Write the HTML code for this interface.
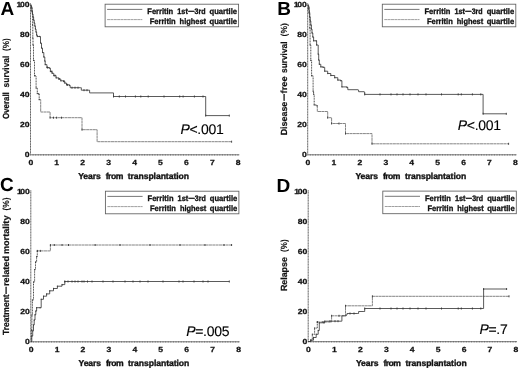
<!DOCTYPE html>
<html><head><meta charset="utf-8"><title>Ferritin quartiles and transplantation outcomes</title>
<style>
html,body{margin:0;padding:0;background:#fff;}
body{width:520px;height:370px;overflow:hidden;}
svg{display:block;font-family:"Liberation Sans",Arial,Helvetica,sans-serif;will-change:transform;filter:grayscale(1);}
text{text-rendering:geometricPrecision;}
.tl{font-size:7.4px;font-weight:bold;fill:#111;stroke:#111;stroke-width:0.25px;}
.al{font-size:8.6px;font-weight:bold;fill:#111;stroke:#111;stroke-width:0.33px;}
.yl{font-size:8.9px;stroke-width:0.2px;}
.yp{stroke-width:0.08px;}
.lg{font-size:8px;font-weight:bold;fill:#111;stroke:#111;stroke-width:0.32px;}
.pl{font-size:19px;font-weight:bold;fill:#000;}
.pv{font-size:14px;fill:#000;stroke:#000;stroke-width:0.12px;letter-spacing:-0.3px;}
.ax{stroke:#777;stroke-width:1;fill:none;}
.ay{stroke:#555;stroke-width:0.9;fill:none;stroke-dasharray:1.3 0.3;}
.mt{stroke:#555;stroke-width:0.75;fill:none;}
.cs{stroke:#3c3c3c;stroke-width:0.85;fill:none;}
.cd{stroke:#666;stroke-width:0.8;fill:none;stroke-dasharray:3 0.35;}
.cdv{stroke:#333;stroke-width:0.9;fill:none;stroke-dasharray:1 0.6;}
.ck{stroke:#333;stroke-width:0.9;fill:none;}
.lb{stroke:#5e5e5e;stroke-width:0.85;fill:#fff;}
</style></head><body>
<svg width="520" height="370" viewBox="0 0 520 370">
<rect width="520" height="370" fill="#fff"/>

<g>
<path class="ay" d="M30.50 3.30 V154.40"/>
<path class="ax" d="M30.50 154.80 H239.34"/>
<path class="mt" d="M30.50 154.30 v1.2 M33.09 154.30 v1.2 M35.69 154.30 v1.2 M38.28 154.30 v1.2 M40.87 154.30 v1.2 M43.47 154.30 v1.2 M46.06 154.30 v1.2 M48.65 154.30 v1.2 M51.24 154.30 v1.2 M53.84 154.30 v1.2 M56.43 154.30 v1.2 M59.02 154.30 v1.2 M61.62 154.30 v1.2 M64.21 154.30 v1.2 M66.80 154.30 v1.2 M69.39 154.30 v1.2 M71.99 154.30 v1.2 M74.58 154.30 v1.2 M77.17 154.30 v1.2 M79.77 154.30 v1.2 M82.36 154.30 v1.2 M84.95 154.30 v1.2 M87.55 154.30 v1.2 M90.14 154.30 v1.2 M92.73 154.30 v1.2 M95.33 154.30 v1.2 M97.92 154.30 v1.2 M100.51 154.30 v1.2 M103.10 154.30 v1.2 M105.70 154.30 v1.2 M108.29 154.30 v1.2 M110.88 154.30 v1.2 M113.48 154.30 v1.2 M116.07 154.30 v1.2 M118.66 154.30 v1.2 M121.25 154.30 v1.2 M123.85 154.30 v1.2 M126.44 154.30 v1.2 M129.03 154.30 v1.2 M131.63 154.30 v1.2 M134.22 154.30 v1.2 M136.81 154.30 v1.2 M139.41 154.30 v1.2 M142.00 154.30 v1.2 M144.59 154.30 v1.2 M147.19 154.30 v1.2 M149.78 154.30 v1.2 M152.37 154.30 v1.2 M154.96 154.30 v1.2 M157.56 154.30 v1.2 M160.15 154.30 v1.2 M162.74 154.30 v1.2 M165.34 154.30 v1.2 M167.93 154.30 v1.2 M170.52 154.30 v1.2 M173.12 154.30 v1.2 M175.71 154.30 v1.2 M178.30 154.30 v1.2 M180.89 154.30 v1.2 M183.49 154.30 v1.2 M186.08 154.30 v1.2 M188.67 154.30 v1.2 M191.27 154.30 v1.2 M193.86 154.30 v1.2 M196.45 154.30 v1.2 M199.05 154.30 v1.2 M201.64 154.30 v1.2 M204.23 154.30 v1.2 M206.82 154.30 v1.2 M209.42 154.30 v1.2 M212.01 154.30 v1.2 M214.60 154.30 v1.2 M217.20 154.30 v1.2 M219.79 154.30 v1.2 M222.38 154.30 v1.2 M224.97 154.30 v1.2 M227.57 154.30 v1.2 M230.16 154.30 v1.2 M232.75 154.30 v1.2 M235.35 154.30 v1.2 M237.94 154.30 v1.2 "/>
<text class="tl" transform="translate(30.80 165.35) scale(1.16 1)" text-anchor="middle">0</text>
<text class="tl" transform="translate(56.73 165.35) scale(1.16 1)" text-anchor="middle">1</text>
<text class="tl" transform="translate(82.66 165.35) scale(1.16 1)" text-anchor="middle">2</text>
<text class="tl" transform="translate(108.59 165.35) scale(1.16 1)" text-anchor="middle">3</text>
<text class="tl" transform="translate(134.52 165.35) scale(1.16 1)" text-anchor="middle">4</text>
<text class="tl" transform="translate(160.45 165.35) scale(1.16 1)" text-anchor="middle">5</text>
<text class="tl" transform="translate(186.38 165.35) scale(1.16 1)" text-anchor="middle">6</text>
<text class="tl" transform="translate(212.31 165.35) scale(1.16 1)" text-anchor="middle">7</text>
<text class="tl" transform="translate(238.24 165.35) scale(1.16 1)" text-anchor="middle">8</text>
<text class="tl" transform="translate(29.60 157.00) scale(1.16 1)" text-anchor="end">0</text>
<text class="tl" transform="translate(29.60 127.10) scale(1.16 1)" text-anchor="end">20</text>
<text class="tl" transform="translate(29.60 97.20) scale(1.16 1)" text-anchor="end">40</text>
<text class="tl" transform="translate(29.60 67.30) scale(1.16 1)" text-anchor="end">60</text>
<text class="tl" transform="translate(29.60 37.40) scale(1.16 1)" text-anchor="end">80</text>
<text class="tl" transform="translate(29.60 7.10) scale(1.16 1)" text-anchor="end">1<tspan dx="-1.15">00</tspan></text>
<text class="al" x="78.20" y="178.80" textLength="22.60" lengthAdjust="spacing">Years</text>
<text class="al" x="105.70" y="178.80" textLength="17.60" lengthAdjust="spacing">from</text>
<text class="al" x="127.70" y="178.80" textLength="61.25" lengthAdjust="spacing">transplantation</text>
<text class="al yl" transform="translate(9.10 119.05) rotate(-90)" textLength="26.85" lengthAdjust="spacingAndGlyphs">Overall</text>
<text class="al yl" transform="translate(9.10 87.40) rotate(-90)" textLength="31.70" lengthAdjust="spacingAndGlyphs">survival</text>
<text class="al yl yp" transform="translate(9.10 50.90) rotate(-90)" textLength="12.70" lengthAdjust="spacingAndGlyphs">(%)</text>
<text class="pl" x="0.60" y="14.80">A</text>
<rect class="lb" x="105.10" y="4.20" width="133.5" height="22.6"/>
<path class="cs" style="stroke-width:0.7" d="M107.10 9.40 h35.2"/>
<path class="cd" style="stroke:#777;stroke-width:0.7" d="M107.10 19.60 h35.2"/>
<text class="lg" x="147.30" y="13.75" textLength="25.90" lengthAdjust="spacingAndGlyphs">Ferritin</text>
<text class="lg" x="177.30" y="13.75" textLength="10.50" lengthAdjust="spacingAndGlyphs">1st</text>
<text class="lg" x="187.90" y="13.75" textLength="6.70" lengthAdjust="spacingAndGlyphs">−</text>
<text class="lg" x="194.50" y="13.75" textLength="11.00" lengthAdjust="spacingAndGlyphs">3rd</text>
<text class="lg" x="209.50" y="13.75" textLength="27.50" lengthAdjust="spacingAndGlyphs">quartile</text>
<text class="lg" x="149.70" y="23.75" textLength="25.90" lengthAdjust="spacingAndGlyphs">Ferritin</text>
<text class="lg" x="179.60" y="23.75" textLength="26.40" lengthAdjust="spacingAndGlyphs">highest</text>
<text class="lg" x="209.50" y="23.75" textLength="27.50" lengthAdjust="spacingAndGlyphs">quartile</text>
<path class="cdv" d="M30.60 5.00 H31.40 V7.00 H32.20 V12.00 H32.60 V25.00 H32.80 V38.00 H33.00 V45.00 H33.50 V60.40 H34.50 V75.80 H36.10 V88.10 H37.30 V93.50 H38.90 V94.30 H39.20 V99.60"/>
<path class="cd" d="M39.20 99.60 H40.70 V100.40 V112.00 H50.10 V117.70 H82.00 V129.70 H97.10 V141.70 H231.60"/>
<path class="ck" d="M50.10 116.70 v2.0 M53.50 116.70 v2.0 M56.60 116.70 v2.0 M61.50 116.70 v2.0 M82.00 128.70 v2.0 M231.60 140.70 v2.0 M31.40 6.35 v1.3 M32.20 11.35 v1.3 M32.60 24.35 v1.3 M32.80 37.35 v1.3 M33.00 44.35 v1.3 M33.50 59.75 v1.3 M34.50 75.15 v1.3 M36.10 87.45 v1.3 M37.30 92.85 v1.3 M38.90 93.65 v1.3 M39.20 98.95 v1.3 "/>
<path class="cs" d="M30.60 5.00 H31.20 V8.00 H31.80 V11.00 H32.40 V14.00 H33.00 V17.00 H33.60 V20.00 H34.20 V23.00 H34.80 V26.00 H35.40 V29.00 H36.00 V32.00 H36.60 V35.00 H37.30 V36.50 H39.60 H40.50 V43.00 H41.50 V48.00 H42.50 V52.50 H43.80 V57.00 H44.80 V61.00 H45.20 V64.60 H46.90 V67.50 H49.20 V68.10 H50.40 V71.50 H52.10 V73.30 H53.80 V75.60 H56.10 V77.90 H59.00 V79.00 H60.80 V80.80 H63.60 V81.30 H64.80 V83.10 H66.50 V84.80 H69.40 V85.40 H70.20 V87.70 H80.40 H81.30 V90.20 H89.00 H89.60 V92.90 H113.50 V96.50 H205.70 V115.60 H229.30"/>
<path class="ck" d="M47.50 66.50 v2.0 M51.80 70.50 v2.0 M55.00 74.60 v2.0 M59.00 78.00 v2.0 M64.00 80.30 v2.0 M67.50 83.80 v2.0 M72.00 86.70 v2.0 M75.00 86.70 v2.0 M78.00 86.70 v2.0 M84.00 89.20 v2.0 M87.00 89.20 v2.0 M113.50 95.50 v2.0 M119.30 95.50 v2.0 M125.50 95.50 v2.0 M135.40 95.50 v2.0 M140.80 95.50 v2.0 M148.20 95.50 v2.0 M164.00 95.50 v2.0 M179.70 95.50 v2.0 M183.10 95.50 v2.0 M194.40 95.50 v2.0 M203.00 95.50 v2.0 M205.70 114.60 v2.0 M229.30 114.60 v2.0 M31.20 7.35 v1.3 M31.80 10.35 v1.3 M32.40 13.35 v1.3 M33.00 16.35 v1.3 M33.60 19.35 v1.3 M34.20 22.35 v1.3 M34.80 25.35 v1.3 M35.40 28.35 v1.3 M36.00 31.35 v1.3 M36.60 34.35 v1.3 M37.30 35.85 v1.3 M39.60 35.85 v1.3 M40.50 42.35 v1.3 M41.50 47.35 v1.3 M42.50 51.85 v1.3 M43.80 56.35 v1.3 M44.80 60.35 v1.3 M45.20 63.95 v1.3 M46.90 66.85 v1.3 M49.20 67.45 v1.3 M50.40 70.85 v1.3 M52.10 72.65 v1.3 M53.80 74.95 v1.3 M56.10 77.25 v1.3 M59.00 78.35 v1.3 M60.80 80.15 v1.3 M63.60 80.65 v1.3 M64.80 82.45 v1.3 M66.50 84.15 v1.3 M69.40 84.75 v1.3 "/>
<text class="pv" x="180.40" y="133.60"><tspan font-style="italic">P</tspan>&lt;.001</text>
</g>
<g>
<path class="ay" d="M307.70 3.30 V154.40"/>
<path class="ax" d="M307.70 154.80 H516.54"/>
<path class="mt" d="M307.70 154.30 v1.2 M310.29 154.30 v1.2 M312.89 154.30 v1.2 M315.48 154.30 v1.2 M318.07 154.30 v1.2 M320.66 154.30 v1.2 M323.26 154.30 v1.2 M325.85 154.30 v1.2 M328.44 154.30 v1.2 M331.04 154.30 v1.2 M333.63 154.30 v1.2 M336.22 154.30 v1.2 M338.82 154.30 v1.2 M341.41 154.30 v1.2 M344.00 154.30 v1.2 M346.59 154.30 v1.2 M349.19 154.30 v1.2 M351.78 154.30 v1.2 M354.37 154.30 v1.2 M356.97 154.30 v1.2 M359.56 154.30 v1.2 M362.15 154.30 v1.2 M364.75 154.30 v1.2 M367.34 154.30 v1.2 M369.93 154.30 v1.2 M372.52 154.30 v1.2 M375.12 154.30 v1.2 M377.71 154.30 v1.2 M380.30 154.30 v1.2 M382.90 154.30 v1.2 M385.49 154.30 v1.2 M388.08 154.30 v1.2 M390.68 154.30 v1.2 M393.27 154.30 v1.2 M395.86 154.30 v1.2 M398.45 154.30 v1.2 M401.05 154.30 v1.2 M403.64 154.30 v1.2 M406.23 154.30 v1.2 M408.83 154.30 v1.2 M411.42 154.30 v1.2 M414.01 154.30 v1.2 M416.61 154.30 v1.2 M419.20 154.30 v1.2 M421.79 154.30 v1.2 M424.38 154.30 v1.2 M426.98 154.30 v1.2 M429.57 154.30 v1.2 M432.16 154.30 v1.2 M434.76 154.30 v1.2 M437.35 154.30 v1.2 M439.94 154.30 v1.2 M442.54 154.30 v1.2 M445.13 154.30 v1.2 M447.72 154.30 v1.2 M450.31 154.30 v1.2 M452.91 154.30 v1.2 M455.50 154.30 v1.2 M458.09 154.30 v1.2 M460.69 154.30 v1.2 M463.28 154.30 v1.2 M465.87 154.30 v1.2 M468.47 154.30 v1.2 M471.06 154.30 v1.2 M473.65 154.30 v1.2 M476.25 154.30 v1.2 M478.84 154.30 v1.2 M481.43 154.30 v1.2 M484.02 154.30 v1.2 M486.62 154.30 v1.2 M489.21 154.30 v1.2 M491.80 154.30 v1.2 M494.40 154.30 v1.2 M496.99 154.30 v1.2 M499.58 154.30 v1.2 M502.17 154.30 v1.2 M504.77 154.30 v1.2 M507.36 154.30 v1.2 M509.95 154.30 v1.2 M512.55 154.30 v1.2 M515.14 154.30 v1.2 "/>
<text class="tl" transform="translate(308.00 165.35) scale(1.16 1)" text-anchor="middle">0</text>
<text class="tl" transform="translate(333.93 165.35) scale(1.16 1)" text-anchor="middle">1</text>
<text class="tl" transform="translate(359.86 165.35) scale(1.16 1)" text-anchor="middle">2</text>
<text class="tl" transform="translate(385.79 165.35) scale(1.16 1)" text-anchor="middle">3</text>
<text class="tl" transform="translate(411.72 165.35) scale(1.16 1)" text-anchor="middle">4</text>
<text class="tl" transform="translate(437.65 165.35) scale(1.16 1)" text-anchor="middle">5</text>
<text class="tl" transform="translate(463.58 165.35) scale(1.16 1)" text-anchor="middle">6</text>
<text class="tl" transform="translate(489.51 165.35) scale(1.16 1)" text-anchor="middle">7</text>
<text class="tl" transform="translate(515.44 165.35) scale(1.16 1)" text-anchor="middle">8</text>
<text class="tl" transform="translate(306.80 157.00) scale(1.16 1)" text-anchor="end">0</text>
<text class="tl" transform="translate(306.80 127.10) scale(1.16 1)" text-anchor="end">20</text>
<text class="tl" transform="translate(306.80 97.20) scale(1.16 1)" text-anchor="end">40</text>
<text class="tl" transform="translate(306.80 67.30) scale(1.16 1)" text-anchor="end">60</text>
<text class="tl" transform="translate(306.80 37.40) scale(1.16 1)" text-anchor="end">80</text>
<text class="tl" transform="translate(306.80 7.10) scale(1.16 1)" text-anchor="end">1<tspan dx="-1.15">00</tspan></text>
<text class="al" x="355.40" y="178.80" textLength="22.60" lengthAdjust="spacing">Years</text>
<text class="al" x="382.90" y="178.80" textLength="17.60" lengthAdjust="spacing">from</text>
<text class="al" x="404.90" y="178.80" textLength="61.25" lengthAdjust="spacing">transplantation</text>
<text class="al yl" transform="translate(286.50 135.30) rotate(-90)" textLength="33.60" lengthAdjust="spacingAndGlyphs">Disease</text>
<text class="al" transform="translate(286.50 100.90) rotate(-90)" textLength="7.30" lengthAdjust="spacingAndGlyphs">−</text>
<text class="al yl" transform="translate(286.50 93.40) rotate(-90)" textLength="16.90" lengthAdjust="spacingAndGlyphs">free</text>
<text class="al yl" transform="translate(286.50 73.00) rotate(-90)" textLength="31.50" lengthAdjust="spacingAndGlyphs">survival</text>
<text class="al yl yp" transform="translate(286.50 36.40) rotate(-90)" textLength="13.20" lengthAdjust="spacingAndGlyphs">(%)</text>
<text class="pl" x="277.20" y="14.60">B</text>
<rect class="lb" x="382.30" y="4.20" width="133.5" height="22.6"/>
<path class="cs" style="stroke-width:0.7" d="M384.30 9.40 h35.2"/>
<path class="cd" style="stroke:#777;stroke-width:0.7" d="M384.30 19.60 h35.2"/>
<text class="lg" x="424.50" y="13.75" textLength="25.90" lengthAdjust="spacingAndGlyphs">Ferritin</text>
<text class="lg" x="454.50" y="13.75" textLength="10.50" lengthAdjust="spacingAndGlyphs">1st</text>
<text class="lg" x="465.10" y="13.75" textLength="6.70" lengthAdjust="spacingAndGlyphs">−</text>
<text class="lg" x="471.70" y="13.75" textLength="11.00" lengthAdjust="spacingAndGlyphs">3rd</text>
<text class="lg" x="486.70" y="13.75" textLength="27.50" lengthAdjust="spacingAndGlyphs">quartile</text>
<text class="lg" x="426.90" y="23.75" textLength="25.90" lengthAdjust="spacingAndGlyphs">Ferritin</text>
<text class="lg" x="456.80" y="23.75" textLength="26.40" lengthAdjust="spacingAndGlyphs">highest</text>
<text class="lg" x="486.70" y="23.75" textLength="27.50" lengthAdjust="spacingAndGlyphs">quartile</text>
<path class="cdv" d="M307.80 5.00 H308.60 V7.00 H309.40 V12.00 H309.80 V28.00 H310.10 V45.00 H310.80 V60.40 H311.60 V75.80 H313.10 V91.20 H313.60 V94.20 H314.20 V105.00 H317.00 V105.80"/>
<path class="cd" d="M317.00 105.80 H317.30 V111.50 H327.70 V117.70 H331.60 V123.50 H345.50 V133.60 H372.00 V143.80 H508.60"/>
<path class="ck" d="M327.70 116.70 v2.0 M331.60 122.50 v2.0 M339.00 122.50 v2.0 M345.50 132.60 v2.0 M372.00 142.80 v2.0 M508.60 142.80 v2.0 M308.60 6.35 v1.3 M309.40 11.35 v1.3 M309.80 27.35 v1.3 M310.10 44.35 v1.3 M310.80 59.75 v1.3 M311.60 75.15 v1.3 M313.10 90.55 v1.3 M313.60 93.55 v1.3 M314.20 104.35 v1.3 M317.00 105.15 v1.3 "/>
<path class="cs" d="M307.80 5.00 H308.40 V9.00 H309.00 V13.00 H309.60 V17.00 H310.20 V21.00 H310.80 V25.00 H311.40 V29.00 H312.00 V33.00 H312.80 V37.00 H313.60 V40.80 H316.20 H316.60 V45.00 H318.20 V54.20 H318.70 V60.00 H319.30 V64.30 H320.80 V66.90 H323.10 V67.30 H324.70 V71.20 H327.70 V73.50 H330.80 V75.50 H334.70 V77.70 H337.80 V80.10 H340.80 V80.70 H341.90 V86.90 H347.00 V87.40 H347.80 V89.70 H357.80 V90.00 H358.60 V91.70 H363.90 V92.00 H364.70 V94.40 H483.10 V113.80 H506.30"/>
<path class="ck" d="M364.70 93.40 v2.0 M380.00 93.40 v2.0 M391.00 93.40 v2.0 M397.00 93.40 v2.0 M403.00 93.40 v2.0 M410.00 93.40 v2.0 M418.00 93.40 v2.0 M426.00 93.40 v2.0 M441.50 93.40 v2.0 M458.20 93.40 v2.0 M461.30 93.40 v2.0 M472.40 93.40 v2.0 M480.80 93.40 v2.0 M483.10 112.80 v2.0 M506.30 112.80 v2.0 M308.40 8.35 v1.3 M309.00 12.35 v1.3 M309.60 16.35 v1.3 M310.20 20.35 v1.3 M310.80 24.35 v1.3 M311.40 28.35 v1.3 M312.00 32.35 v1.3 M312.80 36.35 v1.3 M313.60 40.15 v1.3 M316.20 40.15 v1.3 M316.60 44.35 v1.3 M318.20 53.55 v1.3 M318.70 59.35 v1.3 M319.30 63.65 v1.3 M320.80 66.25 v1.3 M323.10 66.65 v1.3 M324.70 70.55 v1.3 M327.70 72.85 v1.3 M330.80 74.85 v1.3 M334.70 77.05 v1.3 M337.80 79.45 v1.3 M340.80 80.05 v1.3 M341.90 86.25 v1.3 M347.00 86.75 v1.3 "/>
<text class="pv" x="457.80" y="129.80"><tspan font-style="italic">P</tspan>&lt;.001</text>
</g>
<g>
<path class="ay" d="M30.80 190.30 V341.40"/>
<path class="ax" d="M30.80 341.80 H239.64"/>
<path class="mt" d="M30.80 341.30 v1.2 M33.39 341.30 v1.2 M35.99 341.30 v1.2 M38.58 341.30 v1.2 M41.17 341.30 v1.2 M43.77 341.30 v1.2 M46.36 341.30 v1.2 M48.95 341.30 v1.2 M51.54 341.30 v1.2 M54.14 341.30 v1.2 M56.73 341.30 v1.2 M59.32 341.30 v1.2 M61.92 341.30 v1.2 M64.51 341.30 v1.2 M67.10 341.30 v1.2 M69.69 341.30 v1.2 M72.29 341.30 v1.2 M74.88 341.30 v1.2 M77.47 341.30 v1.2 M80.07 341.30 v1.2 M82.66 341.30 v1.2 M85.25 341.30 v1.2 M87.85 341.30 v1.2 M90.44 341.30 v1.2 M93.03 341.30 v1.2 M95.62 341.30 v1.2 M98.22 341.30 v1.2 M100.81 341.30 v1.2 M103.40 341.30 v1.2 M106.00 341.30 v1.2 M108.59 341.30 v1.2 M111.18 341.30 v1.2 M113.78 341.30 v1.2 M116.37 341.30 v1.2 M118.96 341.30 v1.2 M121.55 341.30 v1.2 M124.15 341.30 v1.2 M126.74 341.30 v1.2 M129.33 341.30 v1.2 M131.93 341.30 v1.2 M134.52 341.30 v1.2 M137.11 341.30 v1.2 M139.71 341.30 v1.2 M142.30 341.30 v1.2 M144.89 341.30 v1.2 M147.48 341.30 v1.2 M150.08 341.30 v1.2 M152.67 341.30 v1.2 M155.26 341.30 v1.2 M157.86 341.30 v1.2 M160.45 341.30 v1.2 M163.04 341.30 v1.2 M165.64 341.30 v1.2 M168.23 341.30 v1.2 M170.82 341.30 v1.2 M173.42 341.30 v1.2 M176.01 341.30 v1.2 M178.60 341.30 v1.2 M181.19 341.30 v1.2 M183.79 341.30 v1.2 M186.38 341.30 v1.2 M188.97 341.30 v1.2 M191.57 341.30 v1.2 M194.16 341.30 v1.2 M196.75 341.30 v1.2 M199.35 341.30 v1.2 M201.94 341.30 v1.2 M204.53 341.30 v1.2 M207.12 341.30 v1.2 M209.72 341.30 v1.2 M212.31 341.30 v1.2 M214.90 341.30 v1.2 M217.50 341.30 v1.2 M220.09 341.30 v1.2 M222.68 341.30 v1.2 M225.28 341.30 v1.2 M227.87 341.30 v1.2 M230.46 341.30 v1.2 M233.05 341.30 v1.2 M235.65 341.30 v1.2 M238.24 341.30 v1.2 "/>
<text class="tl" transform="translate(31.10 352.35) scale(1.16 1)" text-anchor="middle">0</text>
<text class="tl" transform="translate(57.03 352.35) scale(1.16 1)" text-anchor="middle">1</text>
<text class="tl" transform="translate(82.96 352.35) scale(1.16 1)" text-anchor="middle">2</text>
<text class="tl" transform="translate(108.89 352.35) scale(1.16 1)" text-anchor="middle">3</text>
<text class="tl" transform="translate(134.82 352.35) scale(1.16 1)" text-anchor="middle">4</text>
<text class="tl" transform="translate(160.75 352.35) scale(1.16 1)" text-anchor="middle">5</text>
<text class="tl" transform="translate(186.68 352.35) scale(1.16 1)" text-anchor="middle">6</text>
<text class="tl" transform="translate(212.61 352.35) scale(1.16 1)" text-anchor="middle">7</text>
<text class="tl" transform="translate(238.54 352.35) scale(1.16 1)" text-anchor="middle">8</text>
<text class="tl" transform="translate(29.90 344.00) scale(1.16 1)" text-anchor="end">0</text>
<text class="tl" transform="translate(29.90 314.10) scale(1.16 1)" text-anchor="end">20</text>
<text class="tl" transform="translate(29.90 284.20) scale(1.16 1)" text-anchor="end">40</text>
<text class="tl" transform="translate(29.90 254.30) scale(1.16 1)" text-anchor="end">60</text>
<text class="tl" transform="translate(29.90 224.40) scale(1.16 1)" text-anchor="end">80</text>
<text class="tl" transform="translate(29.90 194.10) scale(1.16 1)" text-anchor="end">1<tspan dx="-1.15">00</tspan></text>
<text class="al" x="78.50" y="365.80" textLength="22.60" lengthAdjust="spacing">Years</text>
<text class="al" x="106.00" y="365.80" textLength="17.60" lengthAdjust="spacing">from</text>
<text class="al" x="128.00" y="365.80" textLength="61.25" lengthAdjust="spacing">transplantation</text>
<text class="al yl" transform="translate(9.40 335.00) rotate(-90)" textLength="40.70" lengthAdjust="spacingAndGlyphs">Treatment</text>
<text class="al" transform="translate(9.40 294.20) rotate(-90)" textLength="7.80" lengthAdjust="spacingAndGlyphs">−</text>
<text class="al yl" transform="translate(9.40 286.00) rotate(-90)" textLength="30.00" lengthAdjust="spacingAndGlyphs">related</text>
<text class="al yl" transform="translate(9.40 254.10) rotate(-90)" textLength="38.60" lengthAdjust="spacingAndGlyphs">mortality</text>
<text class="al yl yp" transform="translate(9.40 210.50) rotate(-90)" textLength="12.90" lengthAdjust="spacingAndGlyphs">(%)</text>
<text class="pl" x="0.10" y="190.90">C</text>
<rect class="lb" x="105.40" y="191.20" width="133.5" height="22.6"/>
<path class="cs" style="stroke-width:0.7" d="M107.40 196.40 h35.2"/>
<path class="cd" style="stroke:#777;stroke-width:0.7" d="M107.40 206.60 h35.2"/>
<text class="lg" x="147.60" y="200.75" textLength="25.90" lengthAdjust="spacingAndGlyphs">Ferritin</text>
<text class="lg" x="177.60" y="200.75" textLength="10.50" lengthAdjust="spacingAndGlyphs">1st</text>
<text class="lg" x="188.20" y="200.75" textLength="6.70" lengthAdjust="spacingAndGlyphs">−</text>
<text class="lg" x="194.80" y="200.75" textLength="11.00" lengthAdjust="spacingAndGlyphs">3rd</text>
<text class="lg" x="209.80" y="200.75" textLength="27.50" lengthAdjust="spacingAndGlyphs">quartile</text>
<text class="lg" x="150.00" y="210.75" textLength="25.90" lengthAdjust="spacingAndGlyphs">Ferritin</text>
<text class="lg" x="179.90" y="210.75" textLength="26.40" lengthAdjust="spacingAndGlyphs">highest</text>
<text class="lg" x="209.80" y="210.75" textLength="27.50" lengthAdjust="spacingAndGlyphs">quartile</text>
<path class="cdv" d="M30.90 341.60 H31.40 V330.00 H31.90 V315.00 H32.40 V300.00 H33.50 V282.00 H34.60 V269.70 H35.50 V262.00 H36.60 V256.60 H37.30 V250.90"/>
<path class="cd" d="M37.30 250.90 H50.40 V245.00 H231.60"/>
<path class="ck" d="M37.30 249.90 v2.0 M40.40 249.90 v2.0 M50.40 244.00 v2.0 M54.30 244.00 v2.0 M62.00 244.00 v2.0 M68.50 244.00 v2.0 M95.10 244.00 v2.0 M120.00 244.00 v2.0 M150.00 244.00 v2.0 M180.00 244.00 v2.0 M205.00 244.00 v2.0 M224.00 244.00 v2.0 M231.60 244.00 v2.0 M31.40 329.35 v1.3 M31.90 314.35 v1.3 M32.40 299.35 v1.3 M33.50 281.35 v1.3 M34.60 269.05 v1.3 M35.50 261.35 v1.3 M36.60 255.95 v1.3 M37.30 250.25 v1.3 "/>
<path class="cs" d="M30.90 341.60 H31.80 V336.00 H32.70 V330.80 H33.50 V325.00 H34.20 V320.00 H35.00 V314.70 H35.80 V311.00 H36.60 V307.70 H40.10 H41.20 V299.30 H43.50 V296.20 H46.60 V293.90 H49.70 V290.80 H53.50 V288.50 H57.40 V286.20 H62.00 V284.60 H64.80 V281.50 H229.30"/>
<path class="ck" d="M64.80 280.50 v2.0 M68.00 280.50 v2.0 M72.00 280.50 v2.0 M75.00 280.50 v2.0 M78.00 280.50 v2.0 M82.00 280.50 v2.0 M84.00 280.50 v2.0 M87.50 280.50 v2.0 M92.00 280.50 v2.0 M103.00 280.50 v2.0 M113.00 280.50 v2.0 M125.00 280.50 v2.0 M133.00 280.50 v2.0 M140.00 280.50 v2.0 M148.00 280.50 v2.0 M163.00 280.50 v2.0 M179.00 280.50 v2.0 M183.00 280.50 v2.0 M194.00 280.50 v2.0 M203.00 280.50 v2.0 M208.00 280.50 v2.0 M229.30 280.50 v2.0 M31.80 335.35 v1.3 M32.70 330.15 v1.3 M33.50 324.35 v1.3 M34.20 319.35 v1.3 M35.00 314.05 v1.3 M35.80 310.35 v1.3 M36.60 307.05 v1.3 M40.10 307.05 v1.3 M41.20 298.65 v1.3 M43.50 295.55 v1.3 M46.60 293.25 v1.3 M49.70 290.15 v1.3 M53.50 287.85 v1.3 M57.40 285.55 v1.3 M62.00 283.95 v1.3 M64.80 280.85 v1.3 "/>
<text class="pv" x="186.20" y="335.70"><tspan font-style="italic">P</tspan>=.005</text>
</g>
<g>
<path class="ay" d="M308.20 190.20 V341.30"/>
<path class="ax" d="M308.20 341.70 H517.04"/>
<path class="mt" d="M308.20 341.20 v1.2 M310.79 341.20 v1.2 M313.39 341.20 v1.2 M315.98 341.20 v1.2 M318.57 341.20 v1.2 M321.16 341.20 v1.2 M323.76 341.20 v1.2 M326.35 341.20 v1.2 M328.94 341.20 v1.2 M331.54 341.20 v1.2 M334.13 341.20 v1.2 M336.72 341.20 v1.2 M339.32 341.20 v1.2 M341.91 341.20 v1.2 M344.50 341.20 v1.2 M347.09 341.20 v1.2 M349.69 341.20 v1.2 M352.28 341.20 v1.2 M354.87 341.20 v1.2 M357.47 341.20 v1.2 M360.06 341.20 v1.2 M362.65 341.20 v1.2 M365.25 341.20 v1.2 M367.84 341.20 v1.2 M370.43 341.20 v1.2 M373.02 341.20 v1.2 M375.62 341.20 v1.2 M378.21 341.20 v1.2 M380.80 341.20 v1.2 M383.40 341.20 v1.2 M385.99 341.20 v1.2 M388.58 341.20 v1.2 M391.18 341.20 v1.2 M393.77 341.20 v1.2 M396.36 341.20 v1.2 M398.95 341.20 v1.2 M401.55 341.20 v1.2 M404.14 341.20 v1.2 M406.73 341.20 v1.2 M409.33 341.20 v1.2 M411.92 341.20 v1.2 M414.51 341.20 v1.2 M417.11 341.20 v1.2 M419.70 341.20 v1.2 M422.29 341.20 v1.2 M424.88 341.20 v1.2 M427.48 341.20 v1.2 M430.07 341.20 v1.2 M432.66 341.20 v1.2 M435.26 341.20 v1.2 M437.85 341.20 v1.2 M440.44 341.20 v1.2 M443.04 341.20 v1.2 M445.63 341.20 v1.2 M448.22 341.20 v1.2 M450.81 341.20 v1.2 M453.41 341.20 v1.2 M456.00 341.20 v1.2 M458.59 341.20 v1.2 M461.19 341.20 v1.2 M463.78 341.20 v1.2 M466.37 341.20 v1.2 M468.97 341.20 v1.2 M471.56 341.20 v1.2 M474.15 341.20 v1.2 M476.75 341.20 v1.2 M479.34 341.20 v1.2 M481.93 341.20 v1.2 M484.52 341.20 v1.2 M487.12 341.20 v1.2 M489.71 341.20 v1.2 M492.30 341.20 v1.2 M494.90 341.20 v1.2 M497.49 341.20 v1.2 M500.08 341.20 v1.2 M502.67 341.20 v1.2 M505.27 341.20 v1.2 M507.86 341.20 v1.2 M510.45 341.20 v1.2 M513.05 341.20 v1.2 M515.64 341.20 v1.2 "/>
<text class="tl" transform="translate(308.50 352.25) scale(1.16 1)" text-anchor="middle">0</text>
<text class="tl" transform="translate(334.43 352.25) scale(1.16 1)" text-anchor="middle">1</text>
<text class="tl" transform="translate(360.36 352.25) scale(1.16 1)" text-anchor="middle">2</text>
<text class="tl" transform="translate(386.29 352.25) scale(1.16 1)" text-anchor="middle">3</text>
<text class="tl" transform="translate(412.22 352.25) scale(1.16 1)" text-anchor="middle">4</text>
<text class="tl" transform="translate(438.15 352.25) scale(1.16 1)" text-anchor="middle">5</text>
<text class="tl" transform="translate(464.08 352.25) scale(1.16 1)" text-anchor="middle">6</text>
<text class="tl" transform="translate(490.01 352.25) scale(1.16 1)" text-anchor="middle">7</text>
<text class="tl" transform="translate(515.94 352.25) scale(1.16 1)" text-anchor="middle">8</text>
<text class="tl" transform="translate(307.30 343.90) scale(1.16 1)" text-anchor="end">0</text>
<text class="tl" transform="translate(307.30 314.00) scale(1.16 1)" text-anchor="end">20</text>
<text class="tl" transform="translate(307.30 284.10) scale(1.16 1)" text-anchor="end">40</text>
<text class="tl" transform="translate(307.30 254.20) scale(1.16 1)" text-anchor="end">60</text>
<text class="tl" transform="translate(307.30 224.30) scale(1.16 1)" text-anchor="end">80</text>
<text class="tl" transform="translate(307.30 194.00) scale(1.16 1)" text-anchor="end">1<tspan dx="-1.15">00</tspan></text>
<text class="al" x="355.90" y="365.70" textLength="22.60" lengthAdjust="spacing">Years</text>
<text class="al" x="383.40" y="365.70" textLength="17.60" lengthAdjust="spacing">from</text>
<text class="al" x="405.40" y="365.70" textLength="61.25" lengthAdjust="spacing">transplantation</text>
<text class="al yl" transform="translate(286.60 291.10) rotate(-90)" textLength="34.00" lengthAdjust="spacingAndGlyphs">Relapse</text>
<text class="al yl yp" transform="translate(286.60 251.90) rotate(-90)" textLength="12.50" lengthAdjust="spacingAndGlyphs">(%)</text>
<text class="pl" x="276.40" y="192.00">D</text>
<rect class="lb" x="382.80" y="191.10" width="133.5" height="22.6"/>
<path class="cs" style="stroke-width:0.7" d="M384.80 196.30 h35.2"/>
<path class="cd" style="stroke:#777;stroke-width:0.7" d="M384.80 206.50 h35.2"/>
<text class="lg" x="425.00" y="200.65" textLength="25.90" lengthAdjust="spacingAndGlyphs">Ferritin</text>
<text class="lg" x="455.00" y="200.65" textLength="10.50" lengthAdjust="spacingAndGlyphs">1st</text>
<text class="lg" x="465.60" y="200.65" textLength="6.70" lengthAdjust="spacingAndGlyphs">−</text>
<text class="lg" x="472.20" y="200.65" textLength="11.00" lengthAdjust="spacingAndGlyphs">3rd</text>
<text class="lg" x="487.20" y="200.65" textLength="27.50" lengthAdjust="spacingAndGlyphs">quartile</text>
<text class="lg" x="427.40" y="210.65" textLength="25.90" lengthAdjust="spacingAndGlyphs">Ferritin</text>
<text class="lg" x="457.30" y="210.65" textLength="26.40" lengthAdjust="spacingAndGlyphs">highest</text>
<text class="lg" x="487.20" y="210.65" textLength="27.50" lengthAdjust="spacingAndGlyphs">quartile</text>
<path class="cdv" d="M308.30 341.50 H310.80 V340.00 H312.30 V334.30 H314.60 V328.10 H317.30 V322.00"/>
<path class="cd" d="M317.30 322.00 H331.60 V315.80 H345.50 V305.80 H372.40 V296.30 H509.00"/>
<path class="ck" d="M317.30 321.00 v2.0 M323.00 321.00 v2.0 M331.60 314.80 v2.0 M339.00 314.80 v2.0 M345.50 304.80 v2.0 M372.40 295.30 v2.0 M509.00 295.30 v2.0 M310.80 339.35 v1.3 M312.30 333.65 v1.3 M314.60 327.45 v1.3 M317.30 321.35 v1.3 "/>
<path class="cs" d="M308.30 341.50 H310.80 V340.20 H313.50 V337.50 H316.20 V334.30 H318.20 V330.50 H319.30 V322.80 H324.00 H324.70 V321.20 H341.60 H341.90 V315.80 H346.20 V315.00 H347.00 V313.50 H357.80 H358.60 V311.50 H363.90 H364.70 V308.50 H483.60 V289.00 H506.60"/>
<path class="ck" d="M364.70 307.50 v2.0 M380.00 307.50 v2.0 M391.00 307.50 v2.0 M397.00 307.50 v2.0 M403.00 307.50 v2.0 M410.00 307.50 v2.0 M418.00 307.50 v2.0 M426.00 307.50 v2.0 M441.50 307.50 v2.0 M458.20 307.50 v2.0 M461.30 307.50 v2.0 M472.40 307.50 v2.0 M480.80 307.50 v2.0 M483.60 288.00 v2.0 M506.60 288.00 v2.0 M330.00 320.20 v2.0 M335.00 320.20 v2.0 M338.00 320.20 v2.0 M350.00 312.50 v2.0 M354.00 312.50 v2.0 M310.80 339.55 v1.3 M313.50 336.85 v1.3 M316.20 333.65 v1.3 M318.20 329.85 v1.3 M319.30 322.15 v1.3 M324.00 322.15 v1.3 M324.70 320.55 v1.3 "/>
<text class="pv" x="479.40" y="333.60"><tspan font-style="italic">P</tspan>=.7</text>
</g>
</svg></body></html>
